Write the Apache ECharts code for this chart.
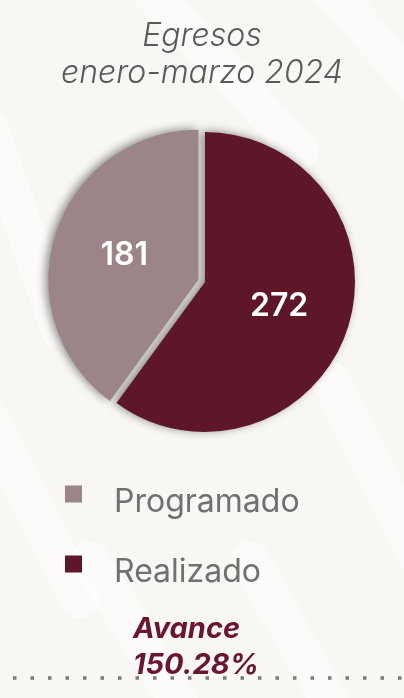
<!DOCTYPE html>
<html>
<head>
<meta charset="utf-8">
<script src="https://cdn.jsdelivr.net/npm/echarts@6/dist/echarts.min.js"></script>
<style>
  html, body { margin: 0; padding: 0; background: #f8f7f3; }
  #chart { width: 404px; height: 698px; }
</style>
</head>
<body>
<div id="chart"></div>
<script>
    'use strict';

    var categories = ['Realizado', 'Programado'];
    var values = [272, 181];
    var colors = ['#5d1729', '#9b8589'];
    var legendOrder = ['Programado', 'Realizado'];
    var titleLines = ['Egresos', 'enero-marzo 2024'];
    var avanceLines = ['Avance', '150.28%'];

    var font = 'Inter, "Open Sans", sans-serif';

    var pieData = categories.map(function (name, i) {
        return {
            name: name,
            value: values[i],
            selected: name === 'Programado',
            itemStyle: { color: colors[i] }
        };
    });

    // faint white brush strokes of the background
    var strokes = [
        [[140, -20], [300, 150]],
        [[330, -10], [420, 90]],
        [[-10, 130], [60, 330]],
        [[-10, 420], [80, 600]],
        [[330, 380], [420, 560]],
        [[90, 560], [190, 720]],
        [[250, 560], [340, 720]]
    ];
    var bgGraphics = strokes.map(function (s) {
        return {
            type: 'line',
            silent: true,
            z: -10,
            shape: { x1: s[0][0], y1: s[0][1], x2: s[1][0], y2: s[1][1] },
            style: { stroke: 'rgba(255,255,255,0.5)', lineWidth: 38, lineCap: 'round' }
        };
    });

    var chart = echarts.init(document.getElementById('chart'));

    chart.setOption({
        backgroundColor: '#f8f7f3',
        animation: false,
        title: {
            text: titleLines.join('\n'),
            left: 'center',
            top: 13,
            textStyle: {
                fontFamily: font,
                fontSize: 32,
                fontStyle: 'italic',
                fontWeight: 300,
                color: '#5a5a5a',
                lineHeight: 37
            }
        },
        legend: {
            data: legendOrder,
            orient: 'vertical',
            left: 60,
            top: 465,
            icon: 'rect',
            itemWidth: 17,
            itemHeight: 17,
            itemGap: 22,
            selectedMode: false,
            // empty first line pushes the label a little below the square
            formatter: function (name) { return '\n' + name; },
            textStyle: {
                fontFamily: font,
                fontSize: 32,
                color: '#707070',
                lineHeight: 16,
                padding: [0, 0, 0, 27]
            }
        },
        graphic: bgGraphics.concat([
            {
                type: 'text',
                left: 133,
                top: 611,
                style: {
                    text: avanceLines.join('\n'),
                    fontFamily: font,
                    fontSize: 29,
                    fontStyle: 'italic',
                    fontWeight: 'bold',
                    fill: '#6b1631',
                    lineHeight: 36,
                    align: 'center'
                }
            },
            {
                type: 'line',
                silent: true,
                shape: { x1: 13, y1: 678, x2: 404, y2: 678 },
                style: { stroke: '#7b7b7b', lineWidth: 3.5, lineDash: [3.5, 14] }
            }
        ]),
        series: [{
            type: 'pie',
            center: [205, 282],
            radius: 150,
            startAngle: 90,
            clockwise: true,
            selectedMode: 'single',
            selectedOffset: 7,
            data: pieData,
            label: {
                show: true,
                position: 'inside',
                formatter: '{c}',
                fontFamily: font,
                fontSize: 32,
                fontWeight: 600,
                color: '#ffffff'
            },
            labelLine: { show: false },
            itemStyle: {
                shadowBlur: 10,
                shadowColor: 'rgba(0,0,0,0.45)',
                shadowOffsetX: -3,
                shadowOffsetY: -1
            },
            emphasis: { disabled: true }
        }]
    });
</script>
</body>
</html>
